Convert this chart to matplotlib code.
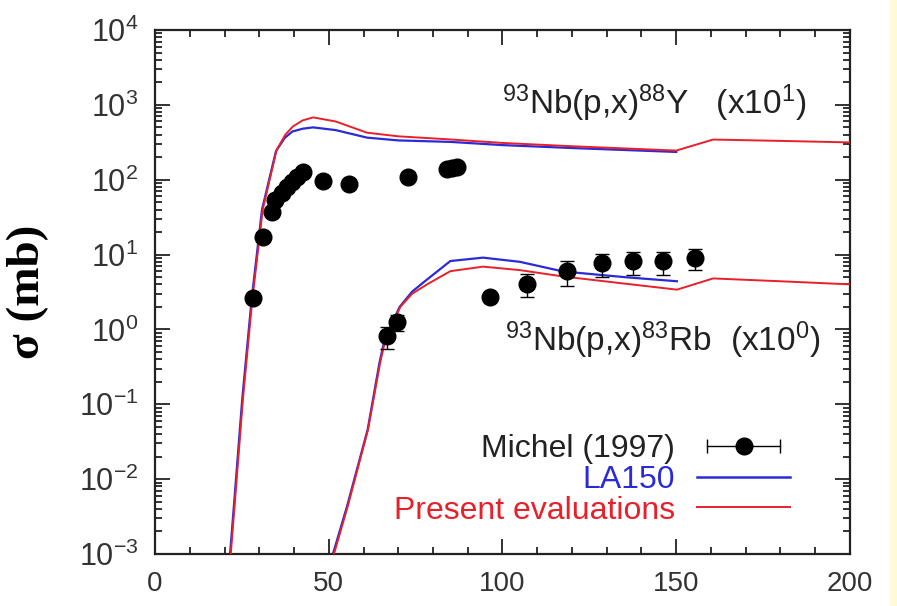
import matplotlib
matplotlib.use("Agg")
import matplotlib.pyplot as plt
from matplotlib.lines import Line2D
from matplotlib.legend_handler import HandlerLine2D, HandlerTuple
from matplotlib.patches import Rectangle
from matplotlib.ticker import LogLocator, MultipleLocator

plt.rcParams['font.family'] = ['Liberation Sans', 'DejaVu Sans']
plt.rcParams['mathtext.fontset'] = 'custom'
plt.rcParams['mathtext.rm'] = 'Liberation Sans'
plt.rcParams['mathtext.it'] = 'Liberation Sans:italic'
plt.rcParams['mathtext.bf'] = 'Liberation Sans:bold'
plt.rcParams['axes.unicode_minus'] = False

# ---- 93Nb(p,x)88Y (x10^1) ----
y88_pres_x = [21.8, 23.0, 25.3, 28.0, 31.0, 35.0, 37.5, 39.7, 42.5, 45.5, 52.0, 61.0, 70.0, 85.0, 100.0, 120.0, 150.0, 160.6, 180.0, 200.0]
y88_pres_y = [1e-3, 5e-3, 0.117, 2.5, 40.0, 250.0, 400.0, 515.0, 620.0, 680.0, 600.0, 425.0, 380.0, 345.0, 310.0, 280.0, 245.0, 344.0, 330.0, 315.0]
y88_la_x = [21.6, 22.8, 25.1, 27.8, 30.8, 34.8, 37.3, 39.5, 42.5, 45.5, 52.0, 61.0, 70.0, 85.0, 100.0, 120.0, 150.0]
y88_la_y = [1e-3, 5e-3, 0.117, 2.5, 40.0, 240.0, 360.0, 440.0, 480.0, 500.0, 460.0, 365.0, 335.0, 320.0, 290.0, 265.0, 235.0]
y88_exp_x = [28.2, 31.1, 33.7, 34.5, 36.5, 38.0, 39.4, 40.8, 42.6, 48.4, 55.8, 72.8, 84.0, 85.5, 87.0]
y88_exp_y = [2.6, 17.4, 37.6, 54.0, 67.0, 81.0, 94.0, 110.0, 125.0, 97.0, 89.0, 110.0, 140.0, 145.0, 148.0]
y88_exp_err = [0.3, 2.0, 4.0, 6.0, 7.0, 8.0, 9.0, 10.0, 12.0, 10.0, 9.0, 15.0, 15.0, 15.0, 15.0]

# ---- 93Nb(p,x)83Rb (x10^0) ----
rb_pres_x = [51.5, 55.5, 61.3, 64.8, 66.3, 70.6, 74.0, 78.3, 85.0, 94.4, 105.0, 117.4, 135.0, 150.2, 160.6, 180.0, 200.0]
rb_pres_y = [1e-3, 4.4e-3, 0.046, 0.36, 0.74, 2.0, 3.0, 4.0, 6.0, 6.9, 6.2, 5.1, 4.1, 3.4, 4.8, 4.4, 4.0]
rb_la_x = [51.2, 55.3, 61.2, 64.6, 66.1, 70.4, 74.0, 78.3, 85.0, 94.4, 105.0, 117.4, 135.0, 150.2]
rb_la_y = [1e-3, 4.4e-3, 0.046, 0.36, 0.74, 2.0, 3.2, 4.65, 8.2, 9.1, 8.0, 5.95, 5.0, 4.4]
rb_exp_x = [66.8, 69.6, 96.4, 107.0, 118.5, 128.6, 137.5, 146.3, 155.4]
rb_exp_y = [0.81, 1.24, 2.75, 4.1, 5.95, 7.6, 8.1, 8.1, 9.1]
rb_exp_err = [0.27, 0.3, 0.3, 1.4, 2.2, 2.6, 2.7, 2.7, 2.9]

label_88 = r'$^{93}$Nb(p,x)$^{88}$Y   (x10$^{1}$)'
label_83 = r'$^{93}$Nb(p,x)$^{83}$Rb  (x10$^{0}$)'
legend_labels = ['Michel (1997)', 'LA150', 'Present evaluations']

RED = '#e8202a'
BLUE = '#2a2ad8'

fig = plt.figure(figsize=(8.97, 6.06), dpi=100)
fig.patches.append(Rectangle((0.9925, 0), 0.0075, 1, transform=fig.transFigure,
                             facecolor='#fffbd8', edgecolor='none', zorder=-1))
ax = fig.add_axes([0.1728, 0.0858, 0.9476 - 0.1728, 0.9505 - 0.0858])

ax.plot(y88_la_x, y88_la_y, color=BLUE, lw=1.6, zorder=2)
ax.plot(y88_pres_x, y88_pres_y, color=RED, lw=1.4, zorder=3)
ax.plot(rb_la_x, rb_la_y, color=BLUE, lw=1.6, zorder=2)
ax.plot(rb_pres_x, rb_pres_y, color=RED, lw=1.4, zorder=3)

ax.errorbar(y88_exp_x, y88_exp_y, yerr=y88_exp_err, fmt='o', color='black',
            ms=12, capsize=5, elinewidth=1, zorder=4)
ax.errorbar(rb_exp_x, rb_exp_y, yerr=rb_exp_err, fmt='o', color='black',
            ms=12, capsize=5, elinewidth=1, zorder=4)

ax.set_yscale('log')
ax.set_xlim(0, 200)
ax.set_ylim(1e-3, 1e4)

ax.xaxis.set_major_locator(MultipleLocator(50))
ax.xaxis.set_minor_locator(MultipleLocator(10))
ax.yaxis.set_major_locator(LogLocator(base=10, numticks=20))
ax.yaxis.set_minor_locator(LogLocator(base=10, subs=range(2, 10), numticks=100))
ax.tick_params(which='both', direction='in', top=True, right=True, width=1.3, color='#222222')
ax.tick_params(which='major', length=11)
ax.tick_params(which='minor', length=5)
ax.tick_params(axis='x', which='major', labelsize=20, pad=12, labelcolor='#333333')
ax.tick_params(axis='y', which='major', labelsize=22, pad=12, labelcolor='#333333')
for s in ax.spines.values():
    s.set_linewidth(1.6)
    s.set_color('#222222')

ax.set_ylabel('σ (mb)', fontsize=34, fontweight='bold',
              family=['Liberation Serif', 'DejaVu Serif'])
ax.yaxis.set_label_coords(-0.152, 0.5)

ax.text(100, 1050, label_88, fontsize=24, color='#222222', va='center', ha='left')
ax.text(100.7, 0.72, label_83, fontsize=24, color='#222222', va='center', ha='left')

# legend
cap_line = Line2D([], [], color='black', lw=1, marker='|', ms=10, mew=1)
dot = Line2D([], [], color='none', marker='o', ms=12, mfc='black', mec='black')
la_h = Line2D([], [], color=BLUE, lw=1.8)
pr_h = Line2D([], [], color=RED, lw=1.4)
leg = ax.legend([(cap_line, dot), la_h, pr_h], legend_labels,
                handler_map={cap_line: HandlerLine2D(numpoints=2),
                             dot: HandlerLine2D(numpoints=1),
                             tuple: HandlerTuple(ndivide=1, pad=0)},
                loc='lower right', bbox_to_anchor=(0.932, 0.03),
                frameon=False, markerfirst=False, fontsize=23,
                handlelength=2.9, handletextpad=0.7, labelspacing=0.02,
                borderaxespad=0)
for t, c in zip(leg.get_texts(), ['#222222', BLUE, RED]):
    t.set_color(c)

fig.savefig('out.png', dpi=100)
